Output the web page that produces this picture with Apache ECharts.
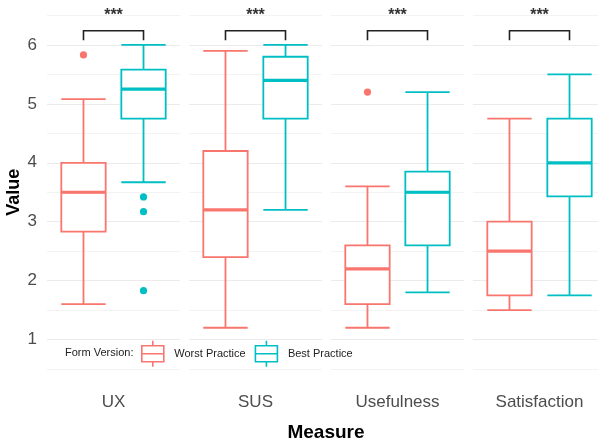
<!DOCTYPE html>
<html>
<head>
<meta charset="utf-8">
<script src="https://cdn.jsdelivr.net/npm/echarts@6/dist/echarts.min.js"></script>
<style>html,body{margin:0;padding:0;background:#fff;overflow:hidden;width:598px;height:445px}#chart{width:612px;height:445px}</style>
</head>
<body>
<div id="chart"></div>
<script>
// ---- data ----
const categories = ['UX', 'SUS', 'Usefulness', 'Satisfaction'];
const groups = ['Worst Practice', 'Best Practice'];
// [lower whisker, Q1, median, Q3, upper whisker]
const worstStats = [
  [1.6, 2.83, 3.5, 4.0, 5.08],
  [1.2, 2.4, 3.2, 4.2, 5.9],
  [1.2, 1.6, 2.2, 2.6, 3.6],
  [1.5, 1.75, 2.5, 3.0, 4.75]
];
const bestStats = [
  [3.67, 4.75, 5.25, 5.58, 6.0],
  [3.2, 4.75, 5.4, 5.8, 6.0],
  [1.8, 2.6, 3.5, 3.85, 5.2],
  [1.75, 3.43, 4.0, 4.75, 5.5]
];
const worstOutliers = [[5.83], [], [5.2], []];
const bestOutliers = [[3.42, 3.17, 1.83], [], [], []];
const sigLabels = ['***', '***', '***', '***'];
const bracketY = [6.24, 6.24, 6.24, 6.24];
const bracketTipY = [6.08, 6.08, 6.08, 6.08];
const starY = [6.49, 6.49, 6.49, 6.49];
const yTicks = [1, 2, 3, 4, 5, 6];

// ---- styling ----
const colors = ['#F8766D', '#00BFC4'];
const FONT = '"Liberation Sans", Arial, sans-serif';
const panelLeft = [47, 189, 331, 473];
const panelWidth = 133;
const gridTop = 15.5, gridHeight = 353.5;

// same dodge rule ECharts uses for boxplot series sharing a category
function dodge(band, idx, n) {
  const avail = band * 0.8 - 2;
  const gap = avail / n * 0.3;
  const w = (avail - gap * (n - 1)) / n;
  const base = w / 2 - avail / 2;
  return { offset: base + idx * (gap + w), width: w };
}

const grids = [], xAxes = [], yAxes = [], series = [];
categories.forEach((cat, i) => {
  grids.push({ left: panelLeft[i], width: panelWidth, top: gridTop, height: gridHeight });
  xAxes.push({
    type: 'category', gridIndex: i, data: [cat],
    axisLine: { show: false }, axisTick: { show: false },
    axisLabel: { fontSize: 17, color: '#4d4d4d', fontFamily: FONT, margin: 25 },
    splitLine: { show: false }
  });
  yAxes.push({
    type: 'value', gridIndex: i, min: 0.5, max: 6.5, interval: 0.5,
    axisLine: { show: false }, axisTick: { show: false },
    axisLabel: {
      show: i === 0, fontSize: 17, color: '#4d4d4d', fontFamily: FONT, margin: 10,
      formatter: v => (yTicks.indexOf(v) >= 0 ? String(v) : '')
    },
    splitLine: { show: true, lineStyle: { color: ['#f3f3f3', '#ebebeb'], width: 1.2 } },
    name: i === 0 ? 'Value' : '',
    nameLocation: 'middle', nameRotate: 90, nameGap: 24,
    nameTextStyle: { fontSize: 18, fontWeight: 'bold', color: '#000', fontFamily: FONT }
  });
  const statsList = [worstStats, bestStats];
  const outList = [worstOutliers, bestOutliers];
  groups.forEach((g, gi) => {
    series.push({
      type: 'boxplot', name: g, xAxisIndex: i, yAxisIndex: i,
      data: [statsList[gi][i]],
      itemStyle: { color: '#ffffff', borderColor: colors[gi], borderWidth: 1.8 },
      emphasis: { disabled: true },
      z: 2
    });
  });
  // thicker median lines
  series.push({
    type: 'custom', xAxisIndex: i, yAxisIndex: i, silent: true, z: 3,
    data: groups.map((g, gi) => [0, statsList[gi][i][2], gi]),
    encode: { x: 0, y: 1 },
    renderItem: function (params, api) {
      const gi = api.value(2);
      const p = api.coord([api.value(0), api.value(1)]);
      const band = api.size([1, 0])[0];
      const d = dodge(band, gi, groups.length);
      const cx = p[0] + d.offset;
      return {
        type: 'line',
        shape: { x1: cx - d.width / 2, y1: p[1], x2: cx + d.width / 2, y2: p[1] },
        style: { stroke: colors[gi], lineWidth: 3.2 }
      };
    }
  });
  // outliers
  const outData = [];
  groups.forEach((g, gi) => outList[gi][i].forEach(v => outData.push([0, v, gi])));
  series.push({
    type: 'custom', xAxisIndex: i, yAxisIndex: i, silent: true, z: 3,
    data: outData, encode: { x: 0, y: 1 },
    renderItem: function (params, api) {
      const gi = api.value(2);
      const p = api.coord([api.value(0), api.value(1)]);
      const band = api.size([1, 0])[0];
      const d = dodge(band, gi, groups.length);
      return {
        type: 'circle',
        shape: { cx: p[0] + d.offset, cy: p[1], r: 3.6 },
        style: { fill: colors[gi] }
      };
    }
  });
  // significance bracket
  series.push({
    type: 'custom', xAxisIndex: i, yAxisIndex: i, silent: true, z: 4,
    data: [[0, bracketY[i], bracketTipY[i], starY[i]]], encode: { x: 0, y: 1 },
    renderItem: function (params, api) {
      const top = api.coord([0, api.value(1)]);
      const tip = api.coord([0, api.value(2)]);
      const st = api.coord([0, api.value(3)]);
      const band = api.size([1, 0])[0];
      const a = top[0] + dodge(band, 0, 2).offset;
      const b = top[0] + dodge(band, 1, 2).offset;
      return {
        type: 'group',
        children: [
          { type: 'polyline', shape: { points: [[a, tip[1]], [a, top[1]], [b, top[1]], [b, tip[1]]] },
            style: { stroke: '#222', lineWidth: 1.6, fill: null } },
          { type: 'text', x: top[0], y: st[1],
            style: { text: sigLabels[i], fontSize: 16, fontWeight: 'bold', fill: '#333',
                     fontFamily: FONT, align: 'center', verticalAlign: 'middle' } }
        ]
      };
    }
  });
});

const iconPath = 'path://M12,0 L12,5 M1,5 L23,5 L23,21 L1,21 Z M1,13 L23,13 M12,21 L12,26';

const option = {
  animation: false,
  backgroundColor: '#ffffff',
  textStyle: { fontFamily: FONT },
  grid: grids, xAxis: xAxes, yAxis: yAxes, series: series,
  legend: {
    left: 141, top: 340, padding: 0,
    itemWidth: 25, itemHeight: 26, itemGap: 9,
    selectedMode: false,
    textStyle: { fontSize: 11, color: '#222', fontFamily: FONT, padding: [0, 0, 0, 4] },
    data: groups.map((g, gi) => ({
      name: g, icon: iconPath,
      itemStyle: { color: 'rgba(0,0,0,0)', borderColor: colors[gi], borderWidth: 1.6 }
    }))
  },
  graphic: [
    { type: 'text', left: 65, top: 347,
      style: { text: 'Form Version:', fontSize: 11, fill: '#222', fontFamily: FONT } },
    { type: 'text', x: 326, y: 433,
      style: { text: 'Measure', fontSize: 19, fontWeight: 'bold', fill: '#000', fontFamily: FONT,
               align: 'center', verticalAlign: 'middle' } }
  ]
};

const chart = echarts.init(document.getElementById('chart'), null, { renderer: 'canvas' });
chart.setOption(option);
</script>
</body>
</html>
